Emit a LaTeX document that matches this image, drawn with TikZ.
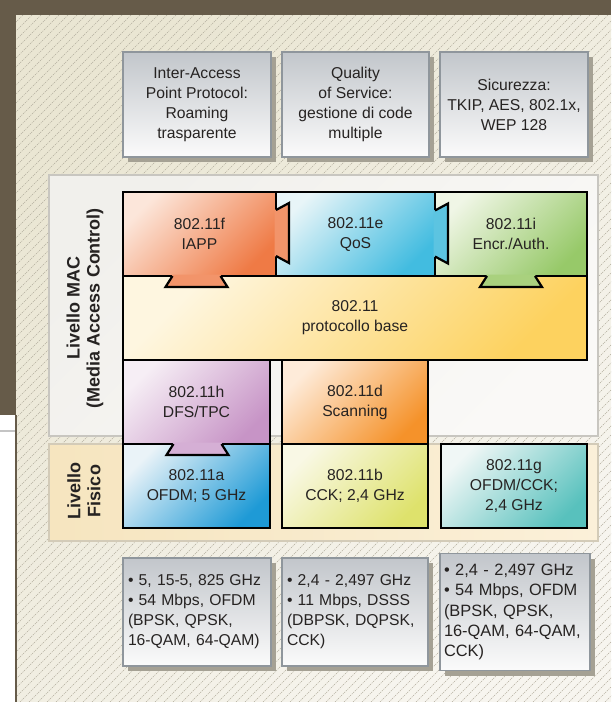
\documentclass[tikz,border=0pt]{standalone}
\usepackage{fontspec}
\setmainfont{Liberation Sans}
\usetikzlibrary{shadows}

\definecolor{frame}{HTML}{665B49}
\definecolor{ink}{HTML}{262322}
\definecolor{hatchc}{HTML}{B3AE9E}
\definecolor{greyc}{HTML}{C4C4C4}
\definecolor{bgA}{HTML}{EAE6D3}
\definecolor{bgB}{HTML}{F3F0E6}
\definecolor{bgC}{HTML}{F7F5EF}
\definecolor{boxtop}{HTML}{C2C6CB}
\definecolor{boxbot}{HTML}{FBFBFB}
\definecolor{boxline}{HTML}{8F969C}
\definecolor{shadowc}{HTML}{A5A194}
\definecolor{macA}{HTML}{F1F0EC}
\definecolor{macB}{HTML}{FAF9F7}
\definecolor{macline}{HTML}{C8C6C0}
\definecolor{fisA}{HTML}{F6E5BF}
\definecolor{fisB}{HTML}{FBF0D9}
\definecolor{fisline}{HTML}{D3CBB8}
\definecolor{fA}{HTML}{FCE6DA}\definecolor{fB}{HTML}{EF7A45}
\definecolor{eA}{HTML}{E8F5F8}\definecolor{eB}{HTML}{42BCE0}
\definecolor{iA}{HTML}{F0F6E6}\definecolor{iB}{HTML}{97C969}
\definecolor{baseA}{HTML}{FEF6E0}\definecolor{baseB}{HTML}{FDD25F}
\definecolor{hA}{HTML}{F6EEF5}\definecolor{hB}{HTML}{C794C6}
\definecolor{dA}{HTML}{FEEBD9}\definecolor{dB}{HTML}{F5922A}
\definecolor{aA}{HTML}{EAF3F8}\definecolor{aB}{HTML}{1E9AD6}
\definecolor{bA}{HTML}{F9F8E5}\definecolor{bB}{HTML}{DEE26C}
\definecolor{gA}{HTML}{F0F7F6}\definecolor{gB}{HTML}{58C1BD}
\definecolor{tabf}{HTML}{F2946A}
\definecolor{tabe}{HTML}{5CC4E1}
\definecolor{tabi}{HTML}{A9D17E}
\definecolor{tabh}{HTML}{D5AFD5}

% dovetail pointing down: x centre, top edge, colour
\newcommand{\dtab}[3]{%
  \fill[#3] (#1-24,#2-1.3) -- (#1+24,#2-1.3) -- (#1+31,#2+11) -- (#1-31,#2+11) -- cycle;
  \draw[tabline] (#1-24,#2) -- (#1-31,#2+11) -- (#1+31,#2+11) -- (#1+24,#2);}
% dovetail pointing right: left edge, y centre, colour
\newcommand{\rtab}[3]{%
  \fill[#3] (#1-1.3,#2-23) -- (#1+13,#2-30) -- (#1+13,#2+30) -- (#1-1.3,#2+23) -- cycle;
  \draw[tabline] (#1,#2-23) -- (#1+13,#2-30) -- (#1+13,#2+30) -- (#1,#2+23);}

\begin{document}
\begin{tikzpicture}[x=1pt, y=-1pt,
    txt/.style={font=\fontsize{15.7}{20}\selectfont, text=ink},
    info/.style={txt, draw=boxline, line width=1.4pt, top color=boxtop, bottom color=boxbot,
      drop shadow={shadow xshift=5pt, shadow yshift=-5pt, fill=shadowc, opacity=1}},
    note/.style={info, align=center, inner sep=0pt, minimum height=105pt},
    spec/.style={info, align=left, inner xsep=5pt, inner ysep=0pt, text width=#1, minimum height=108pt},
    blk/.style 2 args={txt, draw=black, line width=2.2pt, top color=#1, bottom color=#2,
      shading angle=45, inner sep=0pt, align=center, minimum height=84pt},
    panel/.style={draw=#1, line width=1.3pt, inner sep=0pt},
    side/.style={font=\bfseries\fontsize{18}{20}\selectfont, text=ink, rotate=90, align=center},
    tabline/.style={black, line width=2.2pt, line join=miter},
    hatch/.style={hatchc, line width=0.45pt, dash pattern=on 1.2pt off 1pt}]
  \useasboundingbox (0,0) rectangle (611,702);

  \fill[white] (0,0) rectangle (611,702);
  \fill[frame] (0,0) rectangle (611,15);
  \fill[frame] (0,0) rectangle (16,415);
  \draw[greyc, line width=1.5pt] (0,431) -- (15,431);
  \shade[top color=bgA, middle color=bgB, bottom color=bgC, shading angle=45] (16,15) rectangle (611,702);
  \begin{scope}
    \clip (16,15) rectangle (611,702);
    \foreach \k in {-700,-691,...,611}
      \draw[hatch] (\k,702) -- ++(702,-702);
  \end{scope}
  \draw[frame, line width=1.5pt] (16,415) -- (16,702);

  \node[panel=macline, top color=macA, bottom color=macB, shading angle=45,
    minimum width=549pt, minimum height=261pt] (mac) at (323.5,305.5) {};
  \node[panel=fisline, left color=fisA, right color=fisB,
    minimum width=549pt, minimum height=97pt] (fis) at (323.5,492.5) {};
  \node[side] (maclbl) at (85,308) {Livello MAC\\(Media Access Control)};
  \node[side] (fislbl) at (84,491) {Livello\\Fisico};

  \node[note, minimum width=148pt] (iapp) at (197,104.5) {Inter-Access\\Point Protocol:\\Roaming\\trasparente};
  \node[note, minimum width=147pt] (qos) at (355.5,104.5) {Quality\\of Service:\\gestione di code\\multiple};
  \node[note, minimum width=148pt] (sec) at (514,104.5) {Sicurezza:\\TKIP, AES, 802.1x,\\WEP 128};

  \node[blk={fA}{fB}, minimum width=153pt] (f) at (199.5,234) {802.11f\\IAPP};
  \node[blk={eA}{eB}, minimum width=159pt] (e) at (355.5,234) {802.11e\\QoS};
  \node[blk={iA}{iB}, minimum width=152pt] (i) at (511,234) {802.11i\\Encr./Auth.};
  \node[blk={baseA}{baseB}, minimum width=464pt] (base) at (355,318) {802.11\\protocollo base};
  \node[blk={hA}{hB}, minimum width=147pt] (h) at (196.5,402) {802.11h\\DFS/TPC};
  \node[blk={dA}{dB}, minimum width=146pt] (d) at (355,402) {802.11d\\Scanning};
  \node[blk={aA}{aB}, minimum width=147pt] (a) at (196.5,486) {802.11a\\OFDM; 5 GHz};
  \node[blk={bA}{bB}, minimum width=146pt] (b) at (355,486) {802.11b\\CCK; 2,4 GHz};
  \node[blk={gA}{gB}, minimum width=146pt] (g) at (514,486) {802.11g\\OFDM/CCK;\\2,4 GHz};

  \dtab{196.5}{276}{tabf}
  \dtab{511}{276}{tabi}
  \dtab{197.5}{444}{tabh}
  \rtab{276}{233}{tabf}
  \rtab{435}{233.5}{tabe}

  \node[spec=138pt] (speca) at (197,612) {• 5, 15-5, 825 GHz\\• 54 Mbps, OFDM\\(BPSK, QPSK,\\16-QAM, 64-QAM)};
  \node[spec=136pt] (specb) at (355,612) {• 2,4 - 2,497 GHz\\• 11 Mbps, DSSS\\(DBPSK, DQPSK,\\CCK)};
  \node[spec=142pt, inner xsep=4pt, font=\fontsize{16.4}{20.3}\selectfont, minimum height=117pt]
    (specg) at (515,612) {• 2,4 - 2,497 GHz\\• 54 Mbps, OFDM\\(BPSK, QPSK,\\16-QAM, 64-QAM,\\CCK)};
\end{tikzpicture}
\end{document}
